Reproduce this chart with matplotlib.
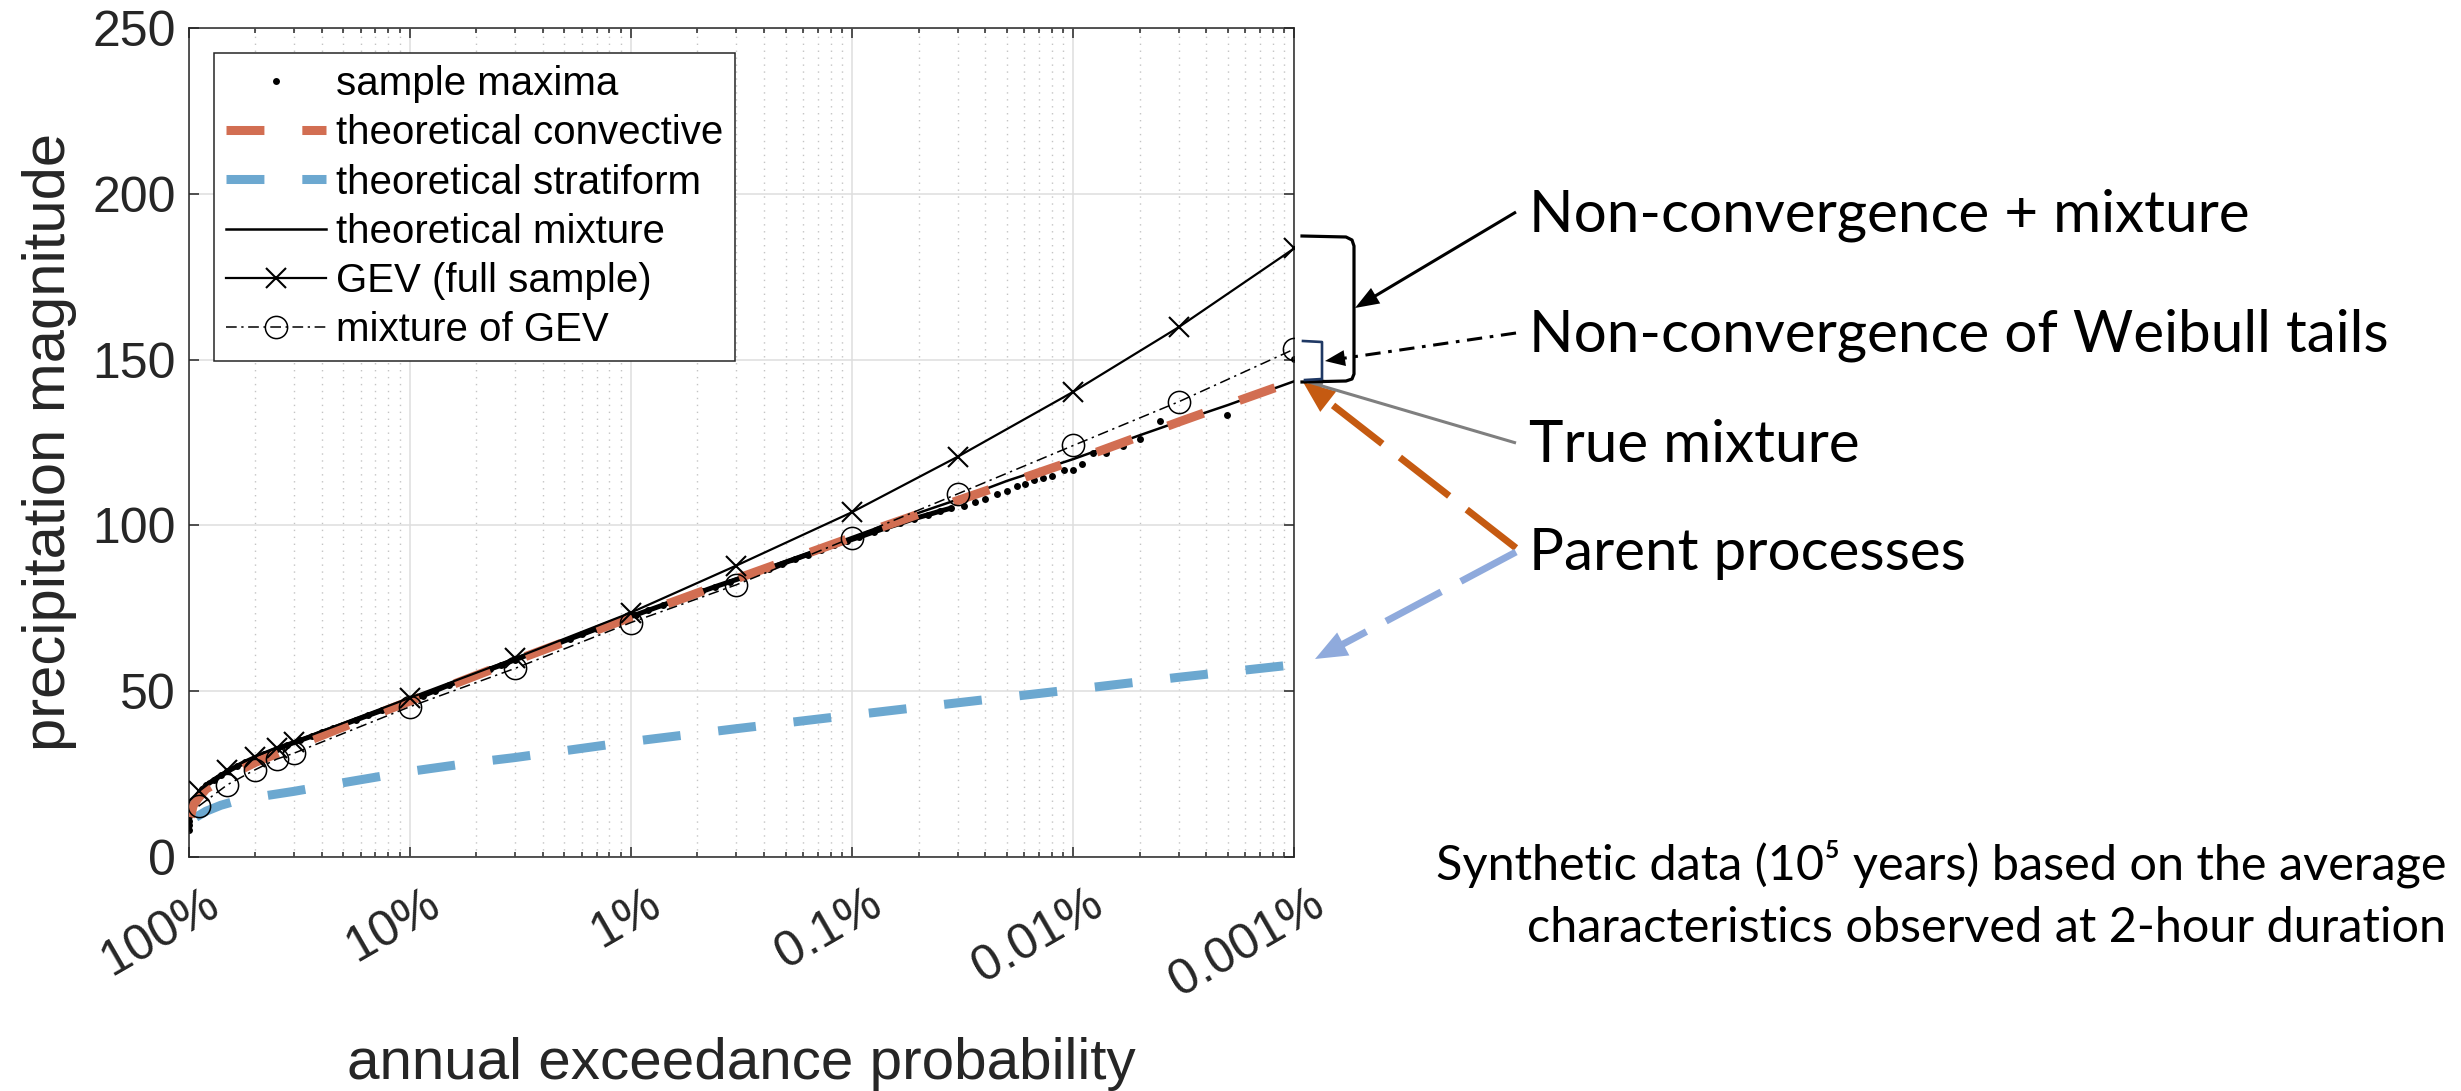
import numpy as np
import matplotlib
matplotlib.use("Agg")
import matplotlib.pyplot as plt
from matplotlib.patches import Polygon

W, H = 2461, 1091
DPI = 100

# x is the return period T in years, shown as annual exceedance probability 1/T
tick_T = [1, 10, 100, 1e3, 1e4, 1e5]
tick_labels = ["100%", "10%", "1%", "0.1%", "0.01%", "0.001%"]

# sample maxima (the dense part forms a thick band)
sample_T = [1.0002, 1.001, 1.003, 1.01, 1.02, 1.04, 1.07, 1.1, 1.15, 1.2, 1.3, 1.4,
            1.5, 1.65, 1.8, 2.0, 2.2, 2.5, 2.8, 3.2, 3.6, 4.0, 4.5, 5, 5.7, 6.5,
            7.5, 8.5, 10, 11.5, 13, 15, 17, 20, 23, 26, 30, 35, 40, 46, 53, 60,
            70, 80, 92, 105, 120, 140, 160, 185, 210, 240, 280, 320, 370, 420,
            480, 550, 630, 720, 830, 950, 1080, 1250, 1430, 1650, 1900, 2200,
            2500, 2800, 3200, 3600, 4000, 4500, 5000, 5550, 6070, 6650, 7300,
            7990, 9080, 9960, 11000, 12270, 14100, 16700, 20000, 24600, 49400,
            100000]
sample_val = [8.0, 9.5, 11.0, 12.5, 13.8, 15.5, 17.3, 18.8, 20.4, 21.6, 23.2, 24.6,
              25.8, 27.3, 28.6, 30.0, 31.1, 32.6, 33.8, 35.2, 36.4, 37.6, 38.8, 39.9,
              41.3, 42.7, 44.2, 45.5, 47.2, 48.7, 50.1, 51.8, 53.2, 55.0, 56.6, 57.9,
              59.5, 61.2, 62.7, 64.2, 65.8, 67.1, 68.8, 70.2, 71.6, 73.0, 74.4, 76.0,
              77.4, 78.9, 80.1, 81.5, 83.0, 84.3, 85.8, 87.0, 88.4, 89.8, 91.2, 92.5,
              94.0, 95.3, 96.5, 98.0, 99.3, 100.6, 102.0, 103.2, 104.3, 105.2, 106.0,
              107.2, 108.0, 109.5, 110.5, 112.0, 112.6, 113.8, 114.3, 114.9, 116.6,
              116.6, 118.5, 121.8, 121.8, 124.0, 126.0, 131.6, 133.3, 150.1]
dense_T_max = 3000

mix_T = [1.0002, 1.001, 1.005, 1.01, 1.02, 1.05, 1.1, 1.2, 1.35, 1.5, 1.75, 2, 2.5,
         3, 4, 5, 7, 10, 15, 20, 30, 50, 70, 100, 200, 300, 500, 1000, 2000, 3000,
         5000, 1e4, 2e4, 3e4, 5e4, 1e5]
mix_val = [8.0, 9.5, 11.5, 12.5, 13.8, 16.5, 19.0, 21.8, 24.3, 26.0, 28.2, 30.0, 32.6,
           34.6, 37.6, 40.0, 43.6, 47.3, 52.0, 55.0, 59.5, 65.3, 69.0, 72.5, 79.5,
           84.0, 89.3, 96.5, 103.8, 107.8, 113.4, 120.0, 127.2, 131.3, 136.3, 143.5]

conv_T = [1.02, 1.05, 1.1, 1.2, 1.5, 2, 3, 5, 10, 30, 100, 300, 1000, 3000, 1e4,
          3e4, 1e5]
conv_val = [12.0, 15.5, 17.5, 20.5, 24.3, 28.5, 33.3, 39.2, 47.0, 59.3, 72.3, 83.9,
            96.4, 107.5, 119.5, 131.2, 143.6]

strat_T = [1.08, 1.2, 1.4, 1.6, 2, 3, 5, 10, 20, 30, 100, 300, 1000, 3000, 1e4,
           3e4, 1e5]
strat_val = [12.0, 13.8, 15.6, 16.7, 18.0, 19.8, 22.4, 25.8, 28.6, 30.0, 34.8, 38.7,
             42.8, 46.5, 50.5, 54.2, 58.0]

gev_T = [1.11, 1.5, 2, 2.5, 3, 10, 30, 100, 300, 1000, 3000, 1e4, 3e4, 1e5]
gev_full = [19.8, 26.3, 30.3, 32.9, 34.8, 48.0, 60.0, 73.7, 87.9, 104.0, 120.7,
            140.3, 159.8, 183.6]
gev_mix = [15.3, 21.8, 26.3, 29.5, 31.3, 45.3, 56.9, 70.7, 82.1, 96.3, 109.5, 124.1,
           137.3, 153.2]

ORANGE = "#D26E52"
BLUE = "#6CA8D0"
AX_COL = "#262626"

plt.rcParams["font.family"] = ["Liberation Sans", "DejaVu Sans"]

fig = plt.figure(figsize=(W / DPI, H / DPI), dpi=DPI)
ax = fig.add_axes([188.5 / W, 1 - 857 / H, 1106 / W, 829 / H])
ax.set_xscale("log")

# sample maxima: dense band + dots
sT = np.array(sample_T)
sV = np.array(sample_val)
dense = sT <= dense_T_max
ax.plot(sT[dense], sV[dense], "-", color="k", lw=3.6, solid_capstyle="round", zorder=2)
h_sample, = ax.plot(sT, sV, "o", ms=5, color="k", mec="none", zorder=2,
                    label="sample maxima")

h_strat, = ax.plot(strat_T, strat_val, color=BLUE, lw=6.5, dashes=(4.2, 4.2),
                   label="theoretical stratiform", zorder=3)
h_mix, = ax.plot(mix_T, mix_val, color="k", lw=1.8, label="theoretical mixture",
                 zorder=3)
h_conv, = ax.plot(conv_T, conv_val, color=ORANGE, lw=6.5, dashes=(4.2, 4.2),
                  label="theoretical convective", zorder=4)
h_gev, = ax.plot(gev_T, gev_full, "-x", color="k", lw=1.6, ms=14, mew=1.5,
                 label="GEV (full sample)", zorder=5)
h_mgev, = ax.plot(gev_T, gev_mix, color="k", lw=1.1, dashes=(7, 3, 1.5, 3),
                  marker="o", ms=16, mfc="none", mew=1.1,
                  label="mixture of GEV", zorder=5)

ax.set_xlim(1, 1e5)
ax.set_ylim(0, 250)
ax.set_yticks([0, 50, 100, 150, 200, 250])
ax.set_xticks(tick_T)
ax.set_xticklabels(tick_labels)
ax.xaxis.set_minor_locator(matplotlib.ticker.LogLocator(base=10, subs=np.arange(2, 10)))
ax.xaxis.set_minor_formatter(matplotlib.ticker.NullFormatter())

ax.grid(which="major", color="#dedede", lw=1.1, zorder=0)
ax.grid(which="minor", axis="x", color="#c4c4c4", lw=1.0, linestyle=(0, (1, 4)))
ax.set_axisbelow(True)

ax.tick_params(which="both", direction="in", top=True, right=True, color=AX_COL,
               width=1.1, labelcolor=AX_COL)
ax.tick_params(which="major", length=7.5, labelsize=36)
ax.tick_params(which="minor", length=3.8)
ax.tick_params(axis="y", pad=9)
ax.tick_params(axis="x", pad=17)
for lab in ax.get_xticklabels():
    lab.set_rotation(30)
    lab.set_ha("right")
    lab.set_va("top")
    lab.set_rotation_mode("anchor")
    lab.set_transform(lab.get_transform() +
                      matplotlib.transforms.ScaledTranslation(0.15, 0, fig.dpi_scale_trans))
for sp in ax.spines.values():
    sp.set_color(AX_COL)
    sp.set_linewidth(1.1)

leg = ax.legend(handles=[h_sample, h_conv, h_strat, h_mix, h_gev, h_mgev],
                loc="upper left", bbox_to_anchor=(0.023, 0.970), borderaxespad=0,
                fontsize=29, frameon=True, fancybox=False, framealpha=1,
                edgecolor=AX_COL, handlelength=2.47, handletextpad=0.25,
                labelspacing=0.28, borderpad=0.3)
leg.get_frame().set_linewidth(1.1)
leg.set_zorder(10)

# axis titles
fig.text(741 / W, 1 - 1079 / H, "annual exceedance probability", ha="center",
         va="baseline", fontsize=42, color=AX_COL)
fig.text(50 / W, 1 - 442 / H, "precipitation magnitude", ha="center", va="center",
         rotation=90, fontsize=43, color=AX_COL)

# overlay in pixel coordinates for the annotations on the right
ov = fig.add_axes([0, 0, 1, 1], zorder=20)
ov.set_xlim(0, W)
ov.set_ylim(H, 0)
ov.axis("off")
ov.patch.set_alpha(0)


def arrow(x0, y0, x1, y1, color, lw, head_len, head_w, dashes=None):
    d = np.hypot(x1 - x0, y1 - y0)
    ux, uy = (x1 - x0) / d, (y1 - y0) / d
    bx, by = x1 - ux * head_len, y1 - uy * head_len
    kw = dict(color=color, lw=lw, solid_capstyle="butt", dash_capstyle="butt")
    if dashes is not None:
        kw["dashes"] = dashes
    ov.plot([x0, bx + ux * 2], [y0, by + uy * 2], **kw)
    ov.add_patch(Polygon([(x1, y1), (bx - uy * head_w / 2, by + ux * head_w / 2),
                          (bx + uy * head_w / 2, by - ux * head_w / 2)],
                         closed=True, color=color, lw=0))


# brackets
ov.plot([1302, 1346, 1352, 1354, 1354, 1352, 1346, 1302],
        [236, 237, 240, 246, 374, 379, 381, 382], color="k", lw=2.3,
        solid_joinstyle="round")
ov.plot([1303, 1322, 1322, 1305], [341, 342, 379, 380], color="#1F3864", lw=1.9)

arrow(1516, 212, 1355, 308, "k", 2.2, 24, 18)
arrow(1516, 333, 1325, 361, "k", 2.2, 20, 16, dashes=(5, 2.5, 1.2, 2.5))
arrow(1516, 443, 1305, 381, "#7F7F7F", 2.2, 18, 14)
arrow(1516, 548, 1303, 382, "#C55A11", 5.0, 32, 26, dashes=(9, 3.2))
arrow(1516, 552, 1315, 659, "#8FAADC", 5.0, 32, 26, dashes=(9, 3.2))

NOTE = dict(family=["Lato", "DejaVu Sans"], color="k", fontweight="normal")
ov.text(1529, 231, "Non-convergence + mixture", fontsize=42, va="baseline", **NOTE)
ov.text(1529, 352, "Non-convergence of Weibull tails", fontsize=42, va="baseline", **NOTE)
ov.text(1529, 462, "True mixture", fontsize=42, va="baseline", **NOTE)
ov.text(1529, 570, "Parent processes", fontsize=42, va="baseline", **NOTE)
ov.text(2446, 880, "Synthetic data (10\u2075 years) based on the average",
        fontsize=35, va="baseline", ha="right", **NOTE)
ov.text(2446, 942, "characteristics observed at 2-hour duration",
        fontsize=35, va="baseline", ha="right", **NOTE)

fig.savefig("out.png", dpi=DPI)
